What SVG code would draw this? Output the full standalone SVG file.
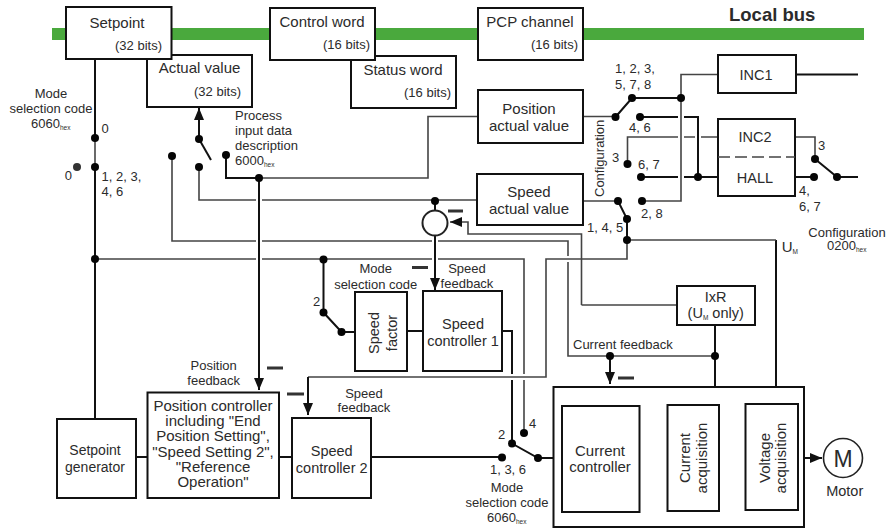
<svg xmlns="http://www.w3.org/2000/svg" width="887" height="528" viewBox="0 0 887 528">
<style>
text{font-family:"Liberation Sans",Arial,sans-serif;fill:#2b2b2b;font-size:13px}
.m{text-anchor:middle}
.e{text-anchor:end}
.b15{font-size:15px}
.b14{font-size:14.5px}
.sub{font-size:6.500px}
.box{fill:#fff;stroke:#111;stroke-width:2}
.k{fill:none;stroke:#111;stroke-width:2}
.g{fill:none;stroke:#444;stroke-width:1.6}
.a{marker-end:url(#arr)}
.d{fill:#050505}
.minus{stroke:#333;stroke-width:3;fill:none}
</style>
<defs>
<marker id="arr" markerUnits="userSpaceOnUse" markerWidth="12" markerHeight="10" refX="12" refY="5" orient="auto"><path d="M0 0L12 5L0 10Z" fill="#111"/></marker>
</defs>
<rect width="887" height="528" fill="#fff"/>
<rect id="local-bus" x="52" y="28" width="812" height="12" fill="#4aa93d"/>
<text x="729" y="20.500" style="font-size:18.500px;font-weight:bold">Local bus</text>

<g id="connectors">
<path class="k" d="M95 59V138M95 167V419"/>
<path class="g" d="M95 138V167"/>
<path class="g" d="M95 259H256M262 259H432M438 259H524V374M524 380V433"/>
<path class="k a" d="M199 139V108"/>
<path class="k" d="M199 139L211 160"/>
<path class="g" d="M199 167V200H256M262 200H477"/>
<path class="g" d="M172 156V241H256M262 241H432M438 241H568V256M568 262V356H715"/>
<path class="k" d="M226 155V178H259"/>
<path class="g" d="M259 178H428V116.500H478"/>
<path class="k a" d="M259 178V390"/>
<path class="k a" d="M435 236V290"/>
<path class="k" d="M435 201V210"/>
<path class="g a" d="M581.500 305V234H468V222H450"/>
<path class="g" d="M581.500 305H677"/>
<path class="g" d="M627 219V259H546V377H308"/>
<path class="k a" d="M308 377V415"/>
<path class="k" d="M323.500 259V312.500L341.500 332H355"/>
<path class="k" d="M407 331H423M502 331H512V374M512 380V443.500L538 458H553.500"/>
<path class="k" d="M136 457H147.500M279 457H292M371 457H502"/>
<path class="k" d="M715 325V387"/>
<path class="k a" d="M610 356V384"/>
<path class="k" d="M776 240V387"/>
<path class="g" d="M627 240H776"/>
<path class="k" d="M627 219V240"/>
<path class="g" d="M583 116.500H615.500"/>
<path class="k" d="M615.500 117L632 98H681"/>
<path class="g" d="M681 98V201H642M681 98V74.500H718"/>
<path class="k" d="M796 74.500H858"/>
<path class="k" d="M640 117H678M684 117H698V177"/>
<path class="k" d="M641 177H678M684 177H718"/>
<path class="g" d="M627.500 164V137H678M684 137H695M701 137H718"/>
<path class="g" d="M583 201H618"/>
<path class="k" d="M618 201L627 219"/>
<path class="g" d="M795 137H815V159"/>
<path class="k" d="M815 159L837 177H858"/>
<path class="k" d="M795 177H814"/>
<path class="k a" d="M639.500 458H664"/>
<path class="k a" d="M719 458H743"/>
<path class="k a" d="M798 458H822"/>
<g class="d">
<circle cx="95" cy="138" r="4"/><circle cx="95" cy="167" r="4"/><circle cx="95" cy="259" r="4"/>
<circle cx="199" cy="139" r="4"/><circle cx="199" cy="167" r="4"/><circle cx="172" cy="156" r="4"/><circle cx="226" cy="155" r="4"/><circle cx="259" cy="178" r="4"/>
<circle cx="435" cy="201" r="4"/><circle cx="323.500" cy="259.500" r="4"/><circle cx="323.500" cy="312.500" r="4"/><circle cx="341.500" cy="332" r="4"/>
<circle cx="502" cy="457.500" r="4"/><circle cx="512" cy="443.500" r="4"/><circle cx="524" cy="433" r="4"/><circle cx="538" cy="458" r="4"/>
<circle cx="610" cy="356" r="4"/><circle cx="715" cy="356" r="4"/>
<circle cx="615.500" cy="117" r="4"/><circle cx="632" cy="98" r="4"/><circle cx="681" cy="98" r="4"/><circle cx="640" cy="117" r="4"/><circle cx="698" cy="177" r="4"/>
<circle cx="627.500" cy="164" r="4"/><circle cx="641" cy="177" r="4"/><circle cx="618" cy="201" r="4"/><circle cx="642" cy="201" r="4"/><circle cx="627" cy="219" r="4"/><circle cx="627" cy="240" r="4"/>
<circle cx="815" cy="159" r="4"/><circle cx="814" cy="177" r="4"/><circle cx="837" cy="177" r="4"/>
</g>
<circle cx="77" cy="167" r="4" fill="#333"/>
<path class="minus" d="M448 211H463M412 267.500H428M267 368H283M287 394H304M618 378H634"/>
</g>

<g id="actual-value"><rect class="box" x="147" y="55" width="105" height="52"/><text class="b15 m" x="199.500" y="73">Actual value</text><text class="e" x="241" y="96">(32 bits)</text></g>
<g id="setpoint"><rect class="box" x="66" y="7" width="105.500" height="52"/><text class="b15 m" x="117" y="27.500">Setpoint</text><text class="e" x="162" y="50">(32 bits)</text></g>
<g id="status-word"><rect class="box" x="351" y="56" width="105" height="52"/><text class="b15 m" x="403" y="75">Status word</text><text class="e" x="451" y="97">(16 bits)</text></g>
<g id="control-word"><rect class="box" x="270" y="8" width="105" height="52"/><text class="b15 m" x="322" y="27">Control word</text><text class="e" x="370" y="49">(16 bits)</text></g>
<g id="pcp-channel"><rect class="box" x="478" y="8" width="105" height="52"/><text class="b15 m" x="530" y="27">PCP channel</text><text class="e" x="578" y="49">(16 bits)</text></g>
<g id="position-actual"><rect class="box" x="478" y="90" width="105" height="53"/><text class="b15 m" x="529" y="114">Position</text><text class="b15 m" x="529" y="131">actual value</text></g>
<g id="speed-actual"><rect class="box" x="477" y="174" width="106" height="51"/><text class="b15 m" x="529" y="196.500">Speed</text><text class="b15 m" x="529" y="213.500">actual value</text></g>
<g id="inc1"><rect class="box" x="718" y="55" width="78" height="38"/><text class="b14 m" x="756" y="80">INC1</text></g>
<g id="inc2-hall"><rect class="box" x="718" y="119" width="77" height="77"/><path d="M718 157H795" stroke="#444" stroke-width="1.600" stroke-dasharray="12 5" fill="none"/><text class="b14 m" x="755" y="142">INC2</text><text class="b14 m" x="755" y="183">HALL</text></g>
<g id="summing-point"><circle cx="435" cy="223" r="12.500" fill="#fff" stroke="#222" stroke-width="2"/></g>
<g id="setpoint-generator"><rect class="box" x="57" y="419" width="79" height="79"/><text class="m" x="95" y="455" style="font-size:14px">Setpoint</text><text class="m" x="95" y="472" style="font-size:14px">generator</text></g>
<g id="position-controller"><rect class="box" x="147.500" y="392.500" width="131.500" height="105.500"/>
<text class="b15 m" x="213" y="410.700">Position controller</text><text class="b15 m" x="213" y="426">including "End</text><text class="b15 m" x="213" y="441">Position Setting",</text><text class="b15 m" x="213" y="456.700">"Speed Setting 2",</text><text class="b15 m" x="213" y="472">"Reference</text><text class="b15 m" x="213" y="486.700">Operation"</text></g>
<g id="speed-controller-2"><rect class="box" x="292" y="418" width="79" height="80"/><text class="b14 m" x="331.700" y="455.700">Speed</text><text class="b14 m" x="331.700" y="472.700">controller 2</text></g>
<g id="speed-factor"><rect class="box" x="355" y="292" width="52" height="79"/><text class="b14 m" transform="translate(379 333) rotate(-90)">Speed</text><text class="b14 m" transform="translate(397 333) rotate(-90)">factor</text></g>
<g id="speed-controller-1"><rect class="box" x="423" y="291" width="79" height="80"/><text class="b14 m" x="463" y="328.700">Speed</text><text class="b14 m" x="463" y="346">controller 1</text></g>
<g id="ixr"><rect class="box" x="677" y="286" width="78" height="39"/><text class="b14 m" x="715.700" y="301.700">IxR</text><text class="b14 m" x="715.700" y="317.700">(U<tspan class="sub" dy="2">M</tspan><tspan dy="-2"> only)</tspan></text></g>
<g id="power-stage"><rect class="box" x="553.500" y="387" width="250.500" height="140"/>
<g id="current-controller"><rect class="box" x="562" y="406" width="77.500" height="106"/><text class="b15 m" x="600" y="456">Current</text><text class="b15 m" x="600" y="472">controller</text></g>
<g id="current-acquisition"><rect class="box" x="667.500" y="405" width="51.500" height="106"/><text class="b15 m" transform="translate(690 458) rotate(-90)">Current</text><text class="b15 m" transform="translate(706.700 458) rotate(-90)">acquisition</text></g>
<g id="voltage-acquisition"><rect class="box" x="745.500" y="404" width="52.500" height="106"/><text class="b15 m" transform="translate(770 458) rotate(-90)">Voltage</text><text class="b15 m" transform="translate(786 458) rotate(-90)">acquisition</text></g></g>
<g id="motor"><circle cx="843" cy="458" r="19.500" fill="#fff" stroke="#222" stroke-width="1.600"/><text class="m" x="843" y="466.500" style="font-size:23px">M</text><text class="b14 m" x="844.700" y="496">Motor</text></g>

<g id="labels">
<text class="m" x="51" y="98">Mode</text><text class="m" x="51" y="112.500">selection code</text><text x="31" y="127.700">6060<tspan class="sub" dy="2">hex</tspan></text>
<text x="101.500" y="133">0</text><text x="64.700" y="180">0</text><text x="101.500" y="181">1, 2, 3,</text><text x="101.500" y="196">4, 6</text>
<text x="235" y="120">Process</text><text x="235" y="135">input data</text><text x="235" y="150">description</text><text x="235" y="165">6000<tspan class="sub" dy="2">hex</tspan></text>
<text x="615" y="73">1, 2, 3,</text><text x="615" y="89">5, 7, 8</text><text x="629" y="132">4, 6</text><text x="612" y="162">3</text><text x="638" y="169">6, 7</text><text x="641" y="218">2, 8</text><text x="587" y="232">1, 4, 5</text>
<text transform="translate(604 197) rotate(-90)">Configuration</text>
<text x="818" y="150">3</text><text x="799" y="195">4,</text><text x="799" y="211">6, 7</text>
<text class="m" x="847" y="236.700">Configuration</text><text x="827" y="249.500">0200<tspan class="sub" dy="2">hex</tspan></text>
<text x="781.700" y="252" class="b15">U<tspan class="sub" dy="2">M</tspan></text>
<text class="m" x="213.700" y="370">Position</text><text class="m" x="213.700" y="385">feedback</text>
<text class="m" x="375.700" y="273">Mode</text><text class="m" x="375.700" y="289">selection code</text>
<text class="m" x="467" y="273">Speed</text><text class="m" x="467" y="288">feedback</text>
<text x="313" y="306">2</text>
<text class="m" x="364" y="397.700">Speed</text><text class="m" x="364" y="411.700">feedback</text>
<text x="529" y="428">4</text><text x="498" y="439">2</text><text class="m" x="508" y="474">1, 3, 6</text>
<text class="m" x="507" y="491.700">Mode</text><text class="m" x="507" y="506.700">selection code</text><text x="487" y="521.700">6060<tspan class="sub" dy="2">hex</tspan></text>
<text x="573" y="349">Current feedback</text>
</g>
</svg>
